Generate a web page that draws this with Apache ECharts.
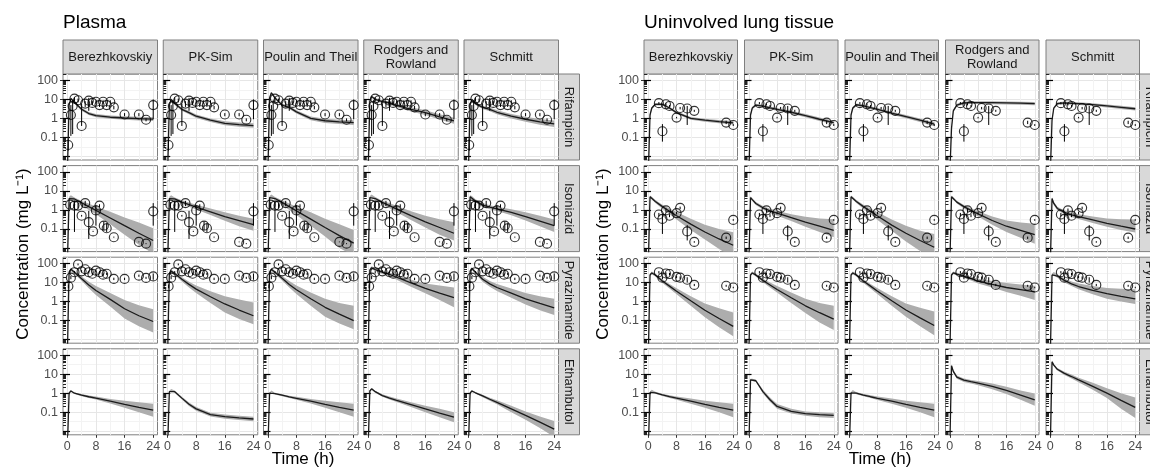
<!DOCTYPE html>
<html>
<head>
<meta charset="utf-8">
<script src="https://cdn.jsdelivr.net/npm/echarts@6/dist/echarts.min.js"></script>
<style>html,body{margin:0;padding:0;background:#fff}#main{width:1150px;height:468px}</style>
</head>
<body>
<div id="main"></div>
<script>
// simulation time grid (h)
const times = [0, 0.5, 1, 2, 4, 6, 8, 12, 16, 20, 24];
const methods = ['Berezhkovskiy', 'PK-Sim', 'Poulin and Theil', 'Rodgers and\nRowland', 'Schmitt'];
const drugs = ['Rifampicin', 'Isoniazid', 'Pyrazinamide', 'Ethambutol'];
const xTickLabels = [0, 8, 16, 24];
const xGridValues = [0, 4, 8, 12, 16, 20, 24];
const yTickLabels = [0.1, 1, 10, 100];
const yGridValues = [0.01, 0.0316, 0.1, 0.316, 1, 3.16, 10, 31.6, 100];
const yMajorTicks = [0.01, 0.1, 1, 10, 100];
const yMinorTicks = [0.007, 0.008, 0.009, 0.02, 0.03, 0.04, 0.05, 0.06, 0.07, 0.08, 0.09,
    0.2, 0.3, 0.4, 0.5, 0.6, 0.7, 0.8, 0.9, 2, 3, 4, 5, 6, 7, 8, 9,
    20, 30, 40, 50, 60, 70, 80, 90, 200];

// ---- plasma: simulated median / lower / upper, one row per method ----
const plasmaRifMid = [
    [0.001, 5, 11, 7, 3, 1.8, 1.4, 1.15, 1.05, 0.98, 0.92],
    [0.001, 5, 10, 6, 3, 2, 1.3, 0.8, 0.55, 0.47, 0.42],
    [0.001, 12, 22, 12, 5, 3.8, 2.2, 1.0, 0.75, 0.65, 0.6],
    [0.001, 8, 14, 10, 7.5, 6.5, 4.8, 3, 2, 1.2, 0.75],
    [0.001, 5, 10, 6, 3.8, 3, 2.1, 1.3, 0.9, 0.65, 0.52]
];
const plasmaRifLo = [
    [0.001, 4.3, 9.5, 6, 2.5, 1.5, 1.15, 0.95, 0.85, 0.78, 0.72],
    [0.001, 4.3, 8.6, 5.1, 2.5, 1.65, 1.05, 0.64, 0.43, 0.36, 0.32],
    [0.001, 10, 19, 10, 4.2, 3.1, 1.8, 0.8, 0.58, 0.5, 0.45],
    [0.001, 6.8, 12, 8.5, 6.2, 5.3, 3.8, 2.3, 1.5, 0.88, 0.52],
    [0.001, 4.3, 8.6, 5.1, 3.1, 2.4, 1.65, 0.98, 0.66, 0.46, 0.35]
];
const plasmaRifHi = [
    [0.001, 5.8, 12.7, 8.2, 3.6, 2.15, 1.7, 1.4, 1.3, 1.22, 1.16],
    [0.001, 5.8, 11.6, 7, 3.6, 2.45, 1.6, 1.0, 0.7, 0.6, 0.55],
    [0.001, 14, 25, 14.4, 6, 4.6, 2.7, 1.25, 0.96, 0.85, 0.8],
    [0.001, 9.4, 16.3, 11.8, 9, 8, 6, 3.9, 2.7, 1.65, 1.08],
    [0.001, 5.8, 11.6, 7, 4.6, 3.7, 2.65, 1.7, 1.22, 0.92, 0.77]
];
const plasmaInhMid = [
    [0.001, 4, 5, 3.8, 2.4, 1.5, 0.95, 0.38, 0.15, 0.06, 0.025],
    [0.001, 4, 5, 3.8, 2.6, 1.9, 1.4, 0.8, 0.45, 0.28, 0.17],
    [0.001, 4.5, 5.5, 4, 2.5, 1.5, 0.9, 0.33, 0.12, 0.045, 0.018],
    [0.001, 4.5, 5.5, 4, 2.5, 1.7, 1.1, 0.5, 0.24, 0.12, 0.06],
    [0.001, 5, 4.5, 3, 1.8, 1.4, 1.15, 0.75, 0.45, 0.26, 0.15]
];
const plasmaInhLo = [
    [0.001, 3.2, 4, 3, 1.8, 1.0, 0.6, 0.18, 0.05, 0.015, 0.005],
    [0.001, 3.2, 4, 3.1, 2.1, 1.5, 1.05, 0.55, 0.27, 0.14, 0.08],
    [0.001, 3.6, 4.5, 3.2, 1.9, 1.0, 0.55, 0.15, 0.04, 0.01, 0.004],
    [0.001, 3.6, 4.5, 3.2, 2, 1.25, 0.75, 0.3, 0.12, 0.05, 0.025],
    [0.001, 4.2, 3.7, 2.5, 1.45, 1.1, 0.88, 0.53, 0.28, 0.14, 0.07]
];
const plasmaInhHi = [
    [0.001, 5, 6, 4.5, 3, 2.2, 1.5, 0.8, 0.4, 0.22, 0.11],
    [0.001, 5, 6, 4.5, 3.2, 2.5, 1.9, 1.2, 0.75, 0.5, 0.35],
    [0.001, 5.5, 6.5, 4.8, 3.2, 2.2, 1.5, 0.75, 0.35, 0.18, 0.09],
    [0.001, 5.5, 6.5, 4.8, 3.1, 2.3, 1.6, 0.85, 0.5, 0.33, 0.23],
    [0.001, 6, 5.5, 3.7, 2.3, 1.8, 1.5, 1.1, 0.75, 0.5, 0.32]
];
const plasmaPzaMid = [
    [0.001, 35, 50, 35, 16, 7.5, 3.8, 1.3, 0.42, 0.18, 0.09],
    [0.001, 30, 40, 30, 15, 8, 4.5, 1.8, 0.75, 0.36, 0.18],
    [0.001, 35, 50, 35, 17, 8, 4.2, 1.4, 0.5, 0.22, 0.1],
    [0.001, 45, 60, 48, 35, 27, 19, 9.5, 5, 2.8, 1.6],
    [0.001, 40, 55, 35, 15, 8.5, 5.5, 2.8, 1.4, 0.8, 0.47]
];
const plasmaPzaLo = [
    [0.001, 28, 40, 28, 12.5, 5, 2.2, 0.55, 0.13, 0.05, 0.024],
    [0.001, 25, 33, 25, 11.5, 5.5, 2.8, 0.85, 0.27, 0.12, 0.065],
    [0.001, 28, 40, 28, 13, 5.5, 2.5, 0.6, 0.16, 0.07, 0.035],
    [0.001, 38, 50, 40, 28, 21, 14, 6, 2.7, 1.2, 0.5],
    [0.001, 33, 46, 29, 11, 6, 3.6, 1.6, 0.7, 0.35, 0.2]
];
const plasmaPzaHi = [
    [0.001, 42, 60, 42, 21, 11, 6.5, 2.8, 1.2, 0.65, 0.4],
    [0.001, 36, 48, 36, 19, 11, 7, 3.5, 1.9, 1.3, 0.9],
    [0.001, 42, 60, 42, 22, 12, 7, 3, 1.4, 0.85, 0.6],
    [0.001, 54, 72, 58, 43, 34, 25, 14, 9, 7, 5.5],
    [0.001, 48, 66, 42, 20, 12, 8.5, 4.8, 2.8, 1.9, 1.4]
];
const plasmaEmbMid = [
    [0.001, 1.0, 1.3, 1.0, 0.8, 0.65, 0.55, 0.38, 0.26, 0.18, 0.13],
    [0.001, 1.2, 1.45, 1.2, 0.55, 0.26, 0.15, 0.075, 0.058, 0.05, 0.044],
    [0.001, 1.0, 1.25, 0.95, 0.78, 0.64, 0.54, 0.38, 0.26, 0.18, 0.13],
    [0.001, 1.3, 1.7, 1.2, 0.75, 0.55, 0.42, 0.25, 0.15, 0.09, 0.055],
    [0.001, 1.0, 1.3, 1.05, 0.72, 0.48, 0.33, 0.15, 0.068, 0.03, 0.013]
];
const plasmaEmbLo = [
    [0.001, 0.9, 1.2, 0.9, 0.7, 0.56, 0.46, 0.29, 0.17, 0.1, 0.058],
    [0.001, 1.05, 1.28, 1.05, 0.47, 0.21, 0.12, 0.06, 0.046, 0.039, 0.034],
    [0.001, 0.9, 1.15, 0.85, 0.68, 0.55, 0.45, 0.29, 0.17, 0.1, 0.058],
    [0.001, 1.15, 1.5, 1.05, 0.64, 0.46, 0.34, 0.19, 0.1, 0.055, 0.03],
    [0.001, 0.9, 1.15, 0.95, 0.62, 0.4, 0.26, 0.1, 0.04, 0.015, 0.005]
];
const plasmaEmbHi = [
    [0.001, 1.1, 1.45, 1.1, 0.9, 0.76, 0.66, 0.5, 0.4, 0.33, 0.28],
    [0.001, 1.35, 1.65, 1.4, 0.65, 0.32, 0.19, 0.095, 0.075, 0.066, 0.058],
    [0.001, 1.1, 1.4, 1.05, 0.88, 0.74, 0.65, 0.5, 0.4, 0.33, 0.28],
    [0.001, 1.45, 1.9, 1.35, 0.87, 0.66, 0.52, 0.33, 0.22, 0.15, 0.1],
    [0.001, 1.1, 1.45, 1.15, 0.82, 0.58, 0.42, 0.22, 0.11, 0.06, 0.035]
];

// ---- lung tissue ----
const lungRifMid = [
    [0.001, 1.5, 3.5, 5.5, 5.5, 3.5, 2, 1.0, 0.8, 0.68, 0.58],
    [0.001, 1.5, 3.5, 5, 4.4, 3.6, 3, 2.1, 1.4, 0.9, 0.6],
    [0.001, 1.5, 3.5, 5.2, 4.5, 3.7, 3, 1.9, 1.25, 0.8, 0.5],
    [0.001, 0.3, 2.5, 5, 6.5, 6.8, 6.8, 6.7, 6.5, 6.3, 6.0],
    [0.001, 0.8, 3.5, 6, 6.5, 6.2, 5.9, 5.3, 4.5, 3.8, 3.2]
];
const lungRifLo = [
    [0.001, 1.25, 3, 4.7, 4.7, 3, 1.7, 0.84, 0.66, 0.56, 0.47],
    [0.001, 1.25, 3, 4.25, 3.75, 3.05, 2.5, 1.75, 1.15, 0.73, 0.48],
    [0.001, 1.25, 3, 4.4, 3.8, 3.1, 2.5, 1.57, 1.02, 0.64, 0.39],
    [0.001, 0.25, 2.1, 4.25, 5.5, 5.75, 5.75, 5.6, 5.4, 5.2, 4.9],
    [0.001, 0.67, 3, 5.1, 5.5, 5.25, 5, 4.45, 3.75, 3.1, 2.6]
];
const lungRifHi = [
    [0.001, 1.78, 4.1, 6.5, 6.5, 4.1, 2.36, 1.2, 0.97, 0.83, 0.72],
    [0.001, 1.78, 4.1, 5.9, 5.2, 4.25, 3.55, 2.5, 1.7, 1.1, 0.75],
    [0.001, 1.78, 4.1, 6.1, 5.3, 4.37, 3.55, 2.27, 1.52, 0.99, 0.63],
    [0.001, 0.36, 2.95, 5.9, 7.7, 8, 8, 7.95, 7.75, 7.55, 7.25],
    [0.001, 0.95, 4.1, 7.1, 7.7, 7.3, 7, 6.3, 5.35, 4.6, 3.9]
];
const lungInhMid = [
    [0.001, 5, 4.2, 2.8, 1.5, 0.85, 0.5, 0.18, 0.07, 0.03, 0.014],
    [0.001, 4.5, 3.5, 2.2, 1.3, 0.9, 0.68, 0.4, 0.23, 0.14, 0.085],
    [0.001, 5, 4.2, 2.8, 1.5, 0.85, 0.48, 0.16, 0.06, 0.025, 0.011],
    [0.001, 5, 4, 2.6, 1.5, 0.95, 0.62, 0.28, 0.14, 0.085, 0.05],
    [0.001, 4, 2.2, 1.2, 0.75, 0.55, 0.45, 0.3, 0.2, 0.14, 0.1]
];
const lungInhLo = [
    [0.001, 4.3, 3.6, 2.3, 1.15, 0.6, 0.32, 0.09, 0.028, 0.009, 0.003],
    [0.001, 3.9, 3, 1.85, 1.05, 0.7, 0.5, 0.26, 0.13, 0.07, 0.037],
    [0.001, 4.3, 3.6, 2.3, 1.15, 0.6, 0.3, 0.08, 0.022, 0.007, 0.0025],
    [0.001, 4.3, 3.4, 2.2, 1.2, 0.72, 0.45, 0.17, 0.07, 0.035, 0.017],
    [0.001, 3.4, 1.8, 0.97, 0.6, 0.43, 0.34, 0.21, 0.13, 0.09, 0.065]
];
const lungInhHi = [
    [0.001, 5.8, 4.9, 3.3, 1.9, 1.2, 0.78, 0.35, 0.17, 0.1, 0.068],
    [0.001, 5.2, 4.1, 2.6, 1.6, 1.15, 0.9, 0.6, 0.44, 0.36, 0.33],
    [0.001, 5.8, 4.9, 3.3, 1.9, 1.2, 0.75, 0.32, 0.15, 0.08, 0.055],
    [0.001, 5.8, 4.7, 3.1, 1.85, 1.25, 0.85, 0.45, 0.28, 0.22, 0.19],
    [0.001, 4.7, 2.7, 1.5, 0.95, 0.72, 0.6, 0.45, 0.36, 0.33, 0.32]
];
const lungPzaMid = [
    [0.001, 25, 32, 25, 12, 6.5, 3.5, 1.1, 0.35, 0.13, 0.05],
    [0.001, 25, 32, 25, 13, 7.5, 4.3, 1.6, 0.6, 0.26, 0.12],
    [0.001, 25, 32, 25, 12, 6.5, 3.5, 1.1, 0.36, 0.14, 0.055],
    [0.001, 25, 32, 28, 22, 16, 12, 8, 5.5, 4.2, 3.2],
    [0.001, 25, 30, 22, 13, 8.5, 6.2, 3.9, 2.6, 1.9, 1.4]
];
const lungPzaLo = [
    [0.001, 21, 27, 21, 9.5, 4.8, 2.4, 0.6, 0.15, 0.045, 0.015],
    [0.001, 21, 27, 21, 10.5, 5.5, 3, 0.85, 0.25, 0.08, 0.032],
    [0.001, 21, 27, 21, 9.5, 4.8, 2.4, 0.6, 0.16, 0.05, 0.017],
    [0.001, 21, 27, 24, 18, 13, 9, 5.5, 3.2, 2, 1.2],
    [0.001, 21, 25, 18, 10, 6.5, 4.4, 2.4, 1.4, 1, 0.75]
];
const lungPzaHi = [
    [0.001, 30, 38, 30, 15, 8.5, 5, 1.9, 0.8, 0.45, 0.27],
    [0.001, 30, 38, 30, 16, 10, 6.5, 3, 1.4, 0.85, 0.6],
    [0.001, 30, 38, 30, 15, 8.5, 5, 1.9, 0.8, 0.47, 0.3],
    [0.001, 30, 38, 33, 27, 20, 16, 12, 9.5, 8, 6.8],
    [0.001, 30, 36, 27, 16.5, 11.5, 9, 6.5, 5.2, 4.7, 4.5]
];
const lungEmbMid = [
    [0.001, 1.1, 1.35, 1.05, 0.82, 0.66, 0.55, 0.38, 0.26, 0.18, 0.13],
    [0.001, 5, 5, 4.5, 1.2, 0.45, 0.2, 0.11, 0.085, 0.075, 0.068],
    [0.001, 1.05, 1.3, 1.0, 0.8, 0.65, 0.54, 0.38, 0.26, 0.18, 0.13],
    [0.001, 28, 14, 7, 4.8, 4, 3.4, 2.3, 1.4, 0.8, 0.45],
    [0.001, 45, 30, 18, 11, 7.5, 5, 2.3, 1.0, 0.42, 0.18]
];
const lungEmbLo = [
    [0.001, 0.98, 1.2, 0.93, 0.71, 0.56, 0.45, 0.28, 0.17, 0.1, 0.055],
    [0.001, 4.4, 4.4, 3.9, 0.95, 0.35, 0.15, 0.085, 0.065, 0.055, 0.05],
    [0.001, 0.93, 1.15, 0.88, 0.69, 0.55, 0.44, 0.28, 0.17, 0.1, 0.055],
    [0.001, 24, 12, 5.8, 3.9, 3.2, 2.6, 1.6, 0.9, 0.45, 0.22],
    [0.001, 39, 26, 15.5, 9, 6, 3.8, 1.5, 0.55, 0.15, 0.05]
];
const lungEmbHi = [
    [0.001, 1.22, 1.5, 1.18, 0.94, 0.78, 0.67, 0.52, 0.4, 0.33, 0.28],
    [0.001, 5.7, 5.7, 5.2, 1.5, 0.6, 0.27, 0.15, 0.11, 0.1, 0.09],
    [0.001, 1.17, 1.45, 1.13, 0.92, 0.77, 0.66, 0.52, 0.4, 0.33, 0.28],
    [0.001, 33, 17, 8.5, 6, 5, 4.4, 3.2, 2.2, 1.4, 0.95],
    [0.001, 52, 35, 21, 13.5, 9.5, 6.5, 3.5, 1.8, 1.0, 0.6]
];

// ---- observed: [time, value, lower, upper] ----
const plasmaRifObs = [
    [0.25, 0.04, 0.02, 0.08], [1, 1.5, 0.12, 5], [1.5, 4.5, 0.15, 9], [2, 11, 8, 13],
    [3, 9, 7, 11], [4, 0.4, 0.4, 6], [5, 6, 4, 8], [6, 8.5, 2.5, 12], [7, 6.5, 5, 8],
    [8, 7.5, 6, 9], [9, 5, 4, 6], [10, 7.5, 6, 9], [11, 5, 4, 6], [12, 7.5, 6, 9],
    [13, 3.8, 3, 4.5], [16, 1.6, 1.3, 1.9], [20, 1.6, 1.3, 1.9], [22, 0.85, 0.7, 1],
    [24, 5, 0.9, 10]
];
const plasmaInhObs = [
    [0.8, 1.9, 1.2, 2.6], [2, 1.7, 0.07, 3], [3, 1.7, 1.2, 2.3], [4, 0.5, 0.45, 0.55],
    [5, 2.3, 1.6, 3], [6, 0.23, 0.03, 0.9], [7.2, 0.075, 0.07, 0.08], [8, 0.95, 0.15, 1.8],
    [9, 1.7, 1.4, 2], [10.2, 0.15, 0.09, 0.25], [11, 0.11, 0.07, 0.2], [13, 0.037, 0.035, 0.04],
    [20, 0.021, 0.02, 0.022], [22, 0.017, 0.016, 0.018], [24, 0.85, 0.15, 2.3]
];
const plasmaPzaObs = [
    [0.3, 6.4, 5, 8], [1, 18, 15, 22], [2, 35, 30, 40], [3, 90, 80, 100], [4, 39, 34, 45],
    [5, 50, 44, 57], [6, 35, 30, 40], [7, 29, 25, 33], [8, 42, 36, 48], [9, 35, 30, 40],
    [10, 26, 22, 30], [11, 29, 25, 33], [13, 15.5, 13.5, 18], [16, 15.5, 13.5, 18],
    [20, 23, 20, 26], [22, 17.5, 15.5, 20], [24, 21, 14, 30]
];
const lungRifObs = [
    [3, 6.3, 5.5, 7.2], [4, 0.21, 0.06, 0.5], [5, 5.5, 4.8, 6.2], [6, 4.5, 4, 5],
    [8, 1.1, 1, 1.2], [9, 3.5, 3, 4], [11, 3.3, 0.45, 4.5], [13, 2.5, 2.2, 2.8],
    [22, 0.6, 0.5, 0.75], [24, 0.45, 0.4, 0.5]
];
const lungInhObs = [
    [3, 0.58, 0.45, 0.7], [4, 0.34, 0.055, 0.6], [5, 0.95, 0.75, 1.2], [6, 0.5, 0.42, 0.6],
    [8, 0.68, 0.58, 0.8], [9, 1.3, 1.1, 1.5], [11, 0.075, 0.025, 0.16], [13, 0.021, 0.019, 0.023],
    [22, 0.035, 0.03, 0.04], [24, 0.3, 0.27, 0.33]
];
const lungPzaObs = [
    [3, 35, 30, 40], [4, 18, 15, 21], [5, 30, 26, 34], [6, 28, 24, 32], [8, 20, 17, 23],
    [9, 18, 15, 21], [11, 14, 10, 19], [13, 7.5, 6.5, 8.5], [22, 6.8, 6, 7.6], [24, 5.5, 5, 6]
];

const FONT = '"Liberation Sans", Arial, sans-serif';
const yMin = 0.0065, yMax = 215;
const rowTop = 74, rowStep = 91.6, rowHeight = 86;

const panels = [
    {
        title: 'Plasma', left: 63, step: 100.25, width: 94.5, yTitleX: 23, xTitleX: 303,
        mid: [plasmaRifMid, plasmaInhMid, plasmaPzaMid, plasmaEmbMid],
        lo: [plasmaRifLo, plasmaInhLo, plasmaPzaLo, plasmaEmbLo],
        hi: [plasmaRifHi, plasmaInhHi, plasmaPzaHi, plasmaEmbHi],
        obs: [plasmaRifObs, plasmaInhObs, plasmaPzaObs, []]
    },
    {
        title: 'Uninvolved lung tissue', left: 644, step: 100.5, width: 93.5, yTitleX: 603, xTitleX: 880,
        mid: [lungRifMid, lungInhMid, lungPzaMid, lungEmbMid],
        lo: [lungRifLo, lungInhLo, lungPzaLo, lungEmbLo],
        hi: [lungRifHi, lungInhHi, lungPzaHi, lungEmbHi],
        obs: [lungRifObs, lungInhObs, lungPzaObs, []]
    }
];

function bandRenderer(lo, hi) {
    return function (params, api) {
        if (params.dataIndex !== 0) return null;
        let pts = [];
        for (let i = 0; i < times.length; i++) pts.push(api.coord([times[i], hi[i]]));
        for (let i = times.length - 1; i >= 0; i--) pts.push(api.coord([times[i], lo[i]]));
        return {type: 'polygon', shape: {points: pts}, style: {fill: '#adadad'}};
    };
}

function errorBar(params, api) {
    let p1 = api.coord([api.value(0), api.value(2)]);
    let p2 = api.coord([api.value(0), api.value(3)]);
    return {type: 'line', shape: {x1: p1[0], y1: p1[1], x2: p2[0], y2: p2[1]},
        style: {stroke: '#000', lineWidth: 1}};
}

// hidden axis line, kept on the grid edge (not at x = 0)
const noLine = {show: false, onZero: false};

let grids = [], xAxes = [], yAxes = [], series = [], graphics = [];

panels.forEach(function (p) {
    graphics.push({type: 'text', x: p.left, y: 23, style: {text: p.title, fill: '#000',
        fontSize: 19, fontFamily: FONT, align: 'left', verticalAlign: 'middle',
        textAlign: 'left', textVerticalAlign: 'middle'}});
    graphics.push({type: 'text', x: p.yTitleX, y: 254, rotation: Math.PI / 2, style: {
        text: 'Concentration (mg L\u207B\u00B9)', fill: '#000', fontSize: 17, fontFamily: FONT,
        align: 'center', verticalAlign: 'middle', textAlign: 'center', textVerticalAlign: 'middle'}});
    graphics.push({type: 'text', x: p.xTitleX, y: 459, style: {text: 'Time (h)', fill: '#000',
        fontSize: 17, fontFamily: FONT, align: 'center', verticalAlign: 'middle',
        textAlign: 'center', textVerticalAlign: 'middle'}});

    for (let c = 0; c < methods.length; c++) {
        let left = p.left + c * p.step;
        graphics.push({type: 'rect', shape: {x: left, y: 40, width: p.width, height: 34},
            style: {fill: '#d9d9d9', stroke: '#7f7f7f', lineWidth: 1}});
        graphics.push({type: 'text', x: left + p.width / 2, y: 57.5, style: {text: methods[c],
            fill: '#1a1a1a', fontSize: 13, fontFamily: FONT, lineHeight: 14,
            align: 'center', verticalAlign: 'middle', textAlign: 'center', textVerticalAlign: 'middle'}});
    }

    for (let r = 0; r < drugs.length; r++) {
        let top = rowTop + r * rowStep;
        let stripX = p.left + 4 * p.step + p.width;
        graphics.push({type: 'rect', shape: {x: stripX, y: top, width: 21, height: rowHeight},
            style: {fill: '#d9d9d9', stroke: '#7f7f7f', lineWidth: 1}});
        graphics.push({type: 'text', x: stripX + 10.5, y: top + rowHeight / 2, rotation: -Math.PI / 2,
            style: {text: drugs[r], fill: '#1a1a1a', fontSize: 13, fontFamily: FONT,
                align: 'center', verticalAlign: 'middle', textAlign: 'center', textVerticalAlign: 'middle'}});

        for (let c = 0; c < methods.length; c++) {
            let g = grids.length;
            grids.push({left: p.left + c * p.step, top: top, width: p.width, height: rowHeight,
                show: true, borderColor: '#7f7f7f', borderWidth: 1});
            let xi = xAxes.length;
            xAxes.push({
                type: 'value', gridIndex: g, position: 'bottom', min: -1.2, max: 25.2,
                axisLine: noLine,
                axisTick: {show: false, customValues: xGridValues},
                splitLine: {show: true, lineStyle: {color: ['#e6e6e6', '#f3f3f3'], width: 1}},
                axisLabel: {show: r === drugs.length - 1, customValues: xTickLabels,
                    color: '#4d4d4d', fontSize: 12.5, fontFamily: FONT, margin: 5}
            });
            if (r === drugs.length - 1) {
                // outer tick marks under the bottom row
                xAxes.push({
                    type: 'value', gridIndex: g, position: 'bottom', min: -1.2, max: 25.2,
                    axisLine: noLine, splitLine: {show: false}, axisLabel: {show: false},
                    axisTick: {show: true, length: 3, customValues: xTickLabels,
                        lineStyle: {color: '#333', width: 1}}
                });
            }
            let yi = yAxes.length;
            yAxes.push({
                type: 'log', logBase: 10, gridIndex: g, position: 'left', min: yMin, max: yMax,
                axisLine: noLine,
                axisTick: {show: false, customValues: yGridValues},
                splitLine: {show: true, lineStyle: {color: ['#e6e6e6', '#f3f3f3'], width: 1}},
                axisLabel: {show: c === 0, customValues: yTickLabels, color: '#4d4d4d',
                    fontSize: 12.5, fontFamily: FONT, margin: 5,
                    formatter: function (v) { return String(v); }}
            });
            yAxes.push({
                type: 'log', logBase: 10, gridIndex: g, position: 'left', min: yMin, max: yMax,
                axisLine: noLine, splitLine: {show: false}, axisLabel: {show: false},
                axisTick: {show: true, inside: true, length: 7, customValues: yMajorTicks,
                    lineStyle: {color: '#000', width: 1.2}}
            });
            yAxes.push({
                type: 'log', logBase: 10, gridIndex: g, position: 'left', min: yMin, max: yMax,
                axisLine: noLine, splitLine: {show: false}, axisLabel: {show: false},
                axisTick: {show: true, inside: true, length: 3, customValues: yMinorTicks,
                    lineStyle: {color: '#222', width: 1}}
            });
            if (c === 0) {
                // outer tick marks beside the labelled column
                yAxes.push({
                    type: 'log', logBase: 10, gridIndex: g, position: 'left', min: yMin, max: yMax,
                    axisLine: noLine, splitLine: {show: false}, axisLabel: {show: false},
                    axisTick: {show: true, length: 3, customValues: yTickLabels,
                        lineStyle: {color: '#333', width: 1}}
                });
            }

            let mid = p.mid[r][c], lo = p.lo[r][c], hi = p.hi[r][c];
            series.push({
                type: 'custom', xAxisIndex: xi, yAxisIndex: yi, clip: true, silent: true, z: 2,
                encode: {x: 0, y: [1, 2]},
                data: times.map(function (t, i) { return [t, lo[i], hi[i]]; }),
                renderItem: bandRenderer(lo, hi)
            });
            series.push({
                type: 'line', xAxisIndex: xi, yAxisIndex: yi, clip: true, silent: true, z: 3,
                symbol: 'none', showSymbol: false,
                lineStyle: {color: '#1a1a1a', width: 1.3},
                data: times.map(function (t, i) { return [t, mid[i]]; })
            });
            let obs = p.obs[r];
            if (obs.length) {
                series.push({
                    type: 'custom', xAxisIndex: xi, yAxisIndex: yi, clip: true, silent: true, z: 4,
                    encode: {x: 0, y: [1, 2, 3]},
                    data: obs, renderItem: errorBar
                });
                series.push({
                    type: 'scatter', xAxisIndex: xi, yAxisIndex: yi, silent: true, z: 5,
                    symbol: 'circle', symbolSize: 9,
                    itemStyle: {color: 'rgba(0,0,0,0)', borderColor: '#000', borderWidth: 1.15},
                    data: obs.map(function (o) { return [o[0], o[1]]; })
                });
            }
        }
    }
});

let chart = echarts.init(document.getElementById('main'), null, {renderer: 'canvas'});
chart.setOption({
    animation: false,
    backgroundColor: '#fff',
    textStyle: {fontFamily: FONT},
    grid: grids,
    xAxis: xAxes,
    yAxis: yAxes,
    series: series,
    graphic: graphics
});
</script>
</body>
</html>
